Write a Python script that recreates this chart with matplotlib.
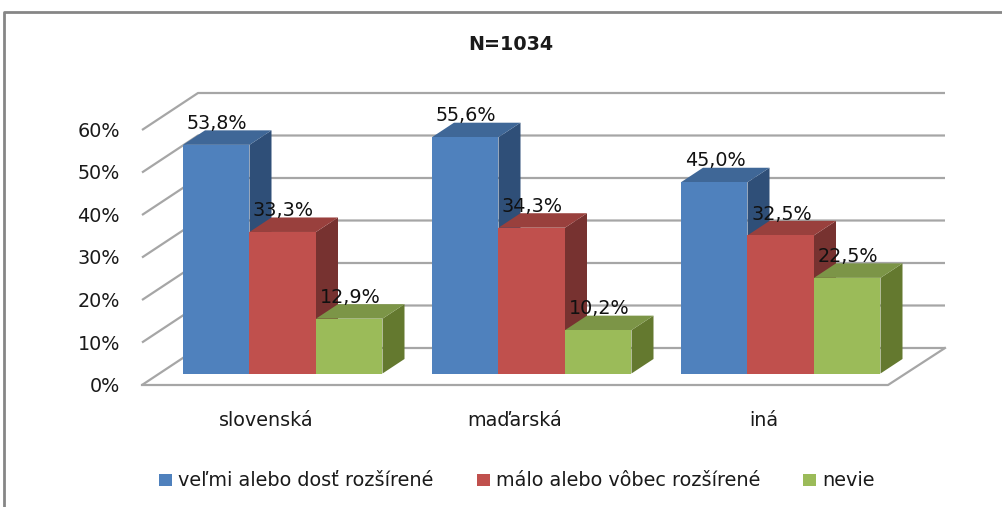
import matplotlib
matplotlib.use("Agg")
import matplotlib.pyplot as plt
from matplotlib.patches import Polygon, Rectangle

# data
categories = ["slovenská", "maďarská", "iná"]
series_names = ["veľmi alebo dosť rozšírené", "málo alebo vôbec rozšírené", "nevie"]
high = [53.8, 55.6, 45.0]
low = [33.3, 34.3, 32.5]
unknown = [12.9, 10.2, 22.5]
y_ticks = [0, 10, 20, 30, 40, 50, 60]

front_colors = ["#4f81bd", "#c0504d", "#9bbb59"]
top_colors = ["#3f6797", "#99403d", "#7c9547"]
side_colors = ["#2f4f78", "#773230", "#64792f"]

# x axis is in pixels, y axis is in percent
px_per_pct = 4.25
base_px = 373.5
fig = plt.figure(figsize=(10.03, 5.07), dpi=100)
ax = fig.add_axes([0, 0, 1, 1])
ax.set_xlim(0, 1003)
ax.set_ylim(-(507 - base_px) / px_per_pct, base_px / px_per_pct)
ax.axis("off")

# offsets of the fake 3d box
wall_dx, wall_dy = 56, 37 / px_per_pct
front_y = -11.5 / px_per_pct
bar_dx, bar_dy = 22, 14.5 / px_per_pct
grid_color = "#a6a6a6"

# gridlines and floor
for t in y_ticks:
    y = front_y + t
    ax.plot([142, 142 + wall_dx, 945], [y, y + wall_dy, y + wall_dy],
            color=grid_color, lw=1.6, zorder=1, solid_capstyle="butt")
    ax.text(120, y - 1.5 / px_per_pct, f"{t}%", ha="right", va="center",
            fontsize=13.8, color="#1a1a1a")
ax.plot([142, 888, 945], [front_y, front_y, front_y + wall_dy],
        color=grid_color, lw=1.6, zorder=1)

# bars
bar_w = 66.5
group_x = [183, 432, 681]
for i, x0 in enumerate(group_x):
    for j, vals in enumerate([high, low, unknown]):
        v = vals[i]
        x = x0 + j * bar_w
        z = 2 + j
        ax.add_patch(Polygon([(x + bar_w, 0), (x + bar_w + bar_dx, bar_dy),
                              (x + bar_w + bar_dx, v + bar_dy), (x + bar_w, v)],
                             fc=side_colors[j], ec="none", zorder=z))
        ax.add_patch(Polygon([(x, v), (x + bar_dx, v + bar_dy),
                              (x + bar_w + bar_dx, v + bar_dy), (x + bar_w, v)],
                             fc=top_colors[j], ec="none", zorder=z))
        ax.add_patch(Rectangle((x, 0), bar_w, v, fc=front_colors[j], ec="none", zorder=z))
        label = f"{v:.1f}%".replace(".", ",")
        ax.text(x + 34, v + 5.0, label, ha="center", va="center",
                fontsize=13.8, color="#111111", zorder=6)

# category labels
for x0, name in zip(group_x, categories):
    ax.text(x0 + 83, -(420 - base_px) / px_per_pct, name, ha="center", va="center",
            fontsize=13.8, color="#1a1a1a")

ax.text(511, (base_px - 45) / px_per_pct, "N=1034", ha="center", va="center",
        fontsize=13.8, fontweight="bold", color="#1a1a1a")

# legend
legend_x = [159, 477, 803]
for x, name, c in zip(legend_x, series_names, front_colors):
    y = -(480 - base_px) / px_per_pct
    ax.add_patch(Rectangle((x, y - 6 / px_per_pct), 13.5, 12 / px_per_pct, fc=c, ec="none"))
    ax.text(x + 19, y, name, ha="left", va="center", fontsize=13.9, color="#1a1a1a")

# outer frame, open on the right and bottom
top = (base_px - 12) / px_per_pct
ax.plot([4.5, 4.5, 1003], [-(507 - base_px) / px_per_pct, top, top],
        color="#868686", lw=2, solid_capstyle="butt")

fig.savefig("out.png", dpi=100)
